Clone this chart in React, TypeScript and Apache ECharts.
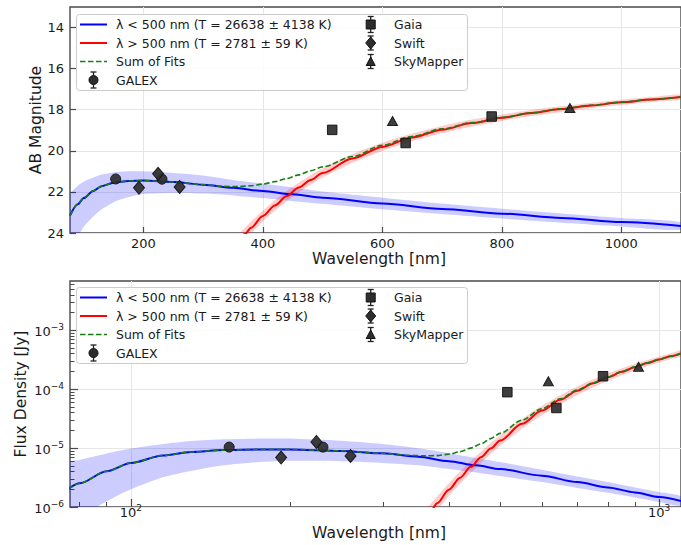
import React, { useEffect, useRef } from 'react';
import * as echarts from 'echarts';

const FONT = '"DejaVu Sans", sans-serif';
const LOG = Math.log10;

// ---------- upper panel: AB magnitudes ----------
const hotWlTop = [77, 90, 100, 116, 130, 150, 175, 200, 250, 300, 350, 400, 450, 500, 600, 700, 800, 900, 1000, 1100];
const hotMagTop = [23.15, 22.6, 22.3, 21.95, 21.72, 21.55, 21.47, 21.45, 21.52, 21.65, 21.8, 21.96, 22.12, 22.28, 22.56, 22.83, 23.06, 23.27, 23.47, 23.66];
const hotMagTopBright = [22.15, 21.7, 21.5, 21.3, 21.15, 21.05, 21.0, 21.0, 21.08, 21.2, 21.42, 21.6, 21.78, 21.98, 22.28, 22.57, 22.82, 23.05, 23.27, 23.47];
const hotMagTopFaint = [24.9, 24.2, 23.7, 23.2, 22.85, 22.5, 22.25, 22.1, 22.05, 22.08, 22.17, 22.3, 22.45, 22.58, 22.85, 23.08, 23.3, 23.5, 23.68, 23.85];

const coolWlTop = [355, 370, 380, 400, 420, 440, 460, 480, 500, 550, 600, 650, 700, 750, 800, 850, 900, 950, 1000, 1050, 1100];
const coolMagTop = [24.56, 24.05, 23.74, 23.17, 22.66, 22.2, 21.79, 21.42, 21.08, 20.37, 19.81, 19.35, 18.97, 18.65, 18.39, 18.16, 17.97, 17.79, 17.64, 17.5, 17.38];
const coolMagTopBright = [24.24, 23.75, 23.45, 22.9, 22.4, 21.95, 21.55, 21.19, 20.86, 20.16, 19.61, 19.16, 18.79, 18.48, 18.23, 18.01, 17.83, 17.66, 17.51, 17.38, 17.26];
const coolMagTopFaint = [24.88, 24.35, 24.03, 23.44, 22.92, 22.45, 22.03, 21.65, 21.3, 20.58, 20.01, 19.54, 19.15, 18.82, 18.55, 18.31, 18.11, 17.92, 17.77, 17.62, 17.5];

const sumWlTop = [77, 90, 100, 116, 130, 150, 175, 200, 250, 300, 330, 360, 380, 400, 420, 440, 460, 480, 500, 550, 600, 650, 700, 750, 800, 850, 900, 950, 1000, 1050, 1100];
const sumMagTop = [23.15, 22.6, 22.3, 21.95, 21.72, 21.55, 21.47, 21.45, 21.52, 21.65, 21.73, 21.74, 21.7, 21.62, 21.5, 21.35, 21.17, 20.97, 20.78, 20.28, 19.73, 19.3, 18.93, 18.63, 18.38, 18.15, 17.95, 17.78, 17.63, 17.5, 17.38];

// ---------- lower panel: flux density [Jy] ----------
const hotWlBot = [76, 80, 90, 100, 115, 130, 150, 175, 200, 250, 300, 350, 400, 450, 500, 600, 700, 800, 900, 1000, 1100];
const hotFluxBot = [2.0e-6, 2.53e-6, 4.05e-6, 5.6e-6, 7.5e-6, 8.6e-6, 9.25e-6, 9.5e-6, 9.5e-6, 8.95e-6, 8.15e-6, 7.15e-6, 6.0e-6, 5.1e-6, 4.4e-6, 3.4e-6, 2.65e-6, 2.15e-6, 1.77e-6, 1.48e-6, 1.26e-6];
const hotFluxBotHigh = [5.6e-6, 6.3e-6, 8.1e-6, 9.8e-6, 1.17e-5, 1.32e-5, 1.41e-5, 1.45e-5, 1.45e-5, 1.33e-5, 1.17e-5, 9.9e-6, 8.2e-6, 6.8e-6, 5.8e-6, 4.3e-6, 3.3e-6, 2.65e-6, 2.15e-6, 1.8e-6, 1.52e-6];
const hotFluxBotLow = [4.5e-7, 6.5e-7, 1.25e-6, 2.0e-6, 3.2e-6, 4.1e-6, 5.1e-6, 5.8e-6, 6.1e-6, 6.0e-6, 5.6e-6, 5.1e-6, 4.4e-6, 3.85e-6, 3.35e-6, 2.65e-6, 2.1e-6, 1.74e-6, 1.45e-6, 1.22e-6, 1.05e-6];

const coolWlBot = [355, 370, 380, 400, 420, 440, 460, 480, 500, 550, 600, 650, 700, 750, 800, 850, 900, 950, 1000, 1050, 1100];
const coolFluxBot = [5.45e-7, 8.7e-7, 1.16e-6, 1.97e-6, 3.15e-6, 4.8e-6, 7.0e-6, 9.85e-6, 1.34e-5, 2.58e-5, 4.33e-5, 6.6e-5, 9.4e-5, 1.26e-4, 1.6e-4, 1.97e-4, 2.37e-4, 2.78e-4, 3.2e-4, 3.62e-4, 4.05e-4];
const coolFluxBotHigh = [7.3e-7, 1.15e-6, 1.51e-6, 2.53e-6, 4.0e-6, 6.05e-6, 8.7e-6, 1.22e-5, 1.64e-5, 3.13e-5, 5.2e-5, 7.86e-5, 1.11e-4, 1.47e-4, 1.85e-4, 2.26e-4, 2.7e-4, 3.13e-4, 3.6e-4, 4.04e-4, 4.52e-4];
const coolFluxBotLow = [4.06e-7, 6.6e-7, 8.9e-7, 1.54e-6, 2.48e-6, 3.81e-6, 5.6e-6, 7.97e-6, 1.09e-5, 2.13e-5, 3.6e-5, 5.54e-5, 7.97e-5, 1.08e-4, 1.38e-4, 1.72e-4, 2.08e-4, 2.47e-4, 2.84e-4, 3.24e-4, 3.63e-4];

const sumWlBot = [76, 80, 90, 100, 115, 130, 150, 175, 200, 250, 300, 330, 360, 380, 400, 420, 440, 460, 480, 500, 550, 600, 650, 700, 750, 800, 850, 900, 950, 1000, 1050, 1100];
const sumFluxBot = [2.0e-6, 2.53e-6, 4.05e-6, 5.6e-6, 7.5e-6, 8.6e-6, 9.25e-6, 9.5e-6, 9.5e-6, 8.95e-6, 8.15e-6, 7.6e-6, 7.4e-6, 7.45e-6, 7.9e-6, 8.7e-6, 1.0e-5, 1.18e-5, 1.45e-5, 1.78e-5, 2.97e-5, 4.67e-5, 6.9e-5, 9.67e-5, 1.28e-4, 1.62e-4, 1.99e-4, 2.39e-4, 2.8e-4, 3.21e-4, 3.63e-4, 4.06e-4];

// ---------- photometry ----------
const galexWl = [153.5, 231];
const galexMag = [21.37, 21.38];
const galexFlux = [1.04e-5, 1.04e-5];
const swiftWl = [192.5, 224.5, 260.5];
const swiftMag = [21.8, 21.12, 21.76];
const swiftFlux = [6.9e-6, 1.27e-5, 7.35e-6];
const gaiaWl = [516, 639, 783];
const gaiaMag = [18.98, 19.62, 18.33];
const gaiaFlux = [8.9e-5, 4.8e-5, 1.66e-4];
const skyMapperWl = [617, 914];
const skyMapperMag = [18.55, 17.92];
const skyMapperFlux = [1.36e-4, 2.4e-4];

// ---------- axes ----------
const magTicks = [14, 16, 18, 20, 22, 24];
const wlTicks = [200, 400, 600, 800, 1000];
const wlDecades = [100, 1000];
const wlMinor = [80, 90, 200, 300, 400, 500, 600, 700, 800, 900];
const fluxDecades = [1e-6, 1e-5, 1e-4, 1e-3];
const fluxMantissas = [2, 3, 4, 5, 6, 7, 8, 9];
const legendLabels = [
  'λ < 500 nm (T = 26638 ± 4138 K)',
  'λ > 500 nm (T = 2781 ± 59 K)',
  'Sum of Fits',
  'GALEX',
];
const legendLabels2 = ['Gaia', 'Swift', 'SkyMapper'];

const WL_MIN_TOP = 77;
const WL_MAX = 1100;
const WL_MIN_BOT = 76.7;
const MAG_MIN = 13;
const MAG_MAX = 24;
const FLUX_MIN = 1e-6;
const FLUX_MAX = 6.87e-3;

const BLUE = '#0000ff';
const RED = '#ff0000';
const GREEN = '#168016';
const MARK = '#2e2e2e';
const GRID_LINE = '#e6e6e6';
const SPINE = '#4a4a4a';

const fluxMinor: number[] = [];
fluxDecades.forEach((d) =>
  fluxMantissas.forEach((m) => {
    if (m * d < FLUX_MAX) fluxMinor.push(m * d);
  })
);

type Pt = [number, number];
const pairs = (x: number[], y: number[], logScale: boolean): Pt[] =>
  x.map((w, i) => (logScale ? [LOG(w), LOG(y[i])] : [w, y[i]]));

function curve(x: number[], y: number[], panel: number, color: string, width: number, dashed = false, z = 3) {
  return {
    type: 'line',
    xAxisIndex: panel,
    yAxisIndex: panel,
    data: pairs(x, y, panel === 1),
    symbol: 'none',
    smooth: 0.3,
    smoothMonotone: 'x',
    silent: true,
    z,
    lineStyle: { color, width, type: dashed ? [5.5, 2.5] : 'solid' },
  };
}

// Confidence band drawn as one filled polygon: upper edge left-to-right, lower edge back.
function band(x: number[], lo: number[], hi: number[], panel: number, fill: string) {
  const isLog = panel === 1;
  const upper = pairs(x, hi, isLog);
  const lower = pairs(x, lo, isLog);
  return {
    type: 'custom',
    xAxisIndex: panel,
    yAxisIndex: panel,
    data: upper,
    silent: true,
    clip: true,
    z: 1,
    renderItem: (params: any, api: any) => {
      if (params.dataIndex !== 0) return null;
      const pts = [...upper.map((p) => api.coord(p)), ...lower.slice().reverse().map((p) => api.coord(p))];
      const cs = params.coordSys;
      return {
        type: 'group',
        clipPath: { type: 'rect', shape: { x: cs.x, y: cs.y, width: cs.width, height: cs.height } },
        children: [
          {
            type: 'polygon',
            shape: { points: pts, smooth: 0.25 },
            style: { fill, stroke: 'none' },
          },
        ],
      };
    },
  };
}

function points(x: number[], y: number[], panel: number, symbol: string, size: number | number[]) {
  return {
    type: 'scatter',
    xAxisIndex: panel,
    yAxisIndex: panel,
    data: pairs(x, y, panel === 1),
    symbol,
    symbolSize: size,
    silent: true,
    z: 10,
    itemStyle: { color: MARK, borderColor: '#111', borderWidth: 1, opacity: 0.92 },
  };
}

const powerLabel = (v: number) => {
  const e = Math.round(v);
  return `{b|10}{s|${e < 0 ? '\u2212' : ''}${Math.abs(e)}}`;
};
const powerRich = {
  b: { fontSize: 13, fontFamily: FONT, color: '#1a1a1a', lineHeight: 16, verticalAlign: 'bottom' },
  s: { fontSize: 9, fontFamily: FONT, color: '#1a1a1a', lineHeight: 9, verticalAlign: 'top' },
};

const tickLabel = { fontSize: 13, fontFamily: FONT, color: '#1a1a1a' };

function errorBar(cx: number, cy: number, half: number) {
  const s = { stroke: '#222', lineWidth: 1.3 };
  return [
    { type: 'line', shape: { x1: cx, y1: cy - half, x2: cx, y2: cy + half }, style: s, z: 101 },
    { type: 'line', shape: { x1: cx - 3, y1: cy - half, x2: cx + 3, y2: cy - half }, style: s, z: 101 },
    { type: 'line', shape: { x1: cx - 3, y1: cy + half, x2: cx + 3, y2: cy + half }, style: s, z: 101 },
  ];
}

function legend(top: number) {
  const rows = [10.5, 29, 47.5, 66].map((o) => top + o);
  const markStyle = { fill: MARK, stroke: '#111', lineWidth: 1 };
  const els: any[] = [
    {
      type: 'rect',
      shape: { x: 76.5, y: top + 0.5, width: 391, height: 76, r: 3 },
      style: { fill: 'rgba(255,255,255,0.85)', stroke: '#cccccc', lineWidth: 1 },
      z: 100,
    },
    { type: 'line', shape: { x1: 80, y1: rows[0], x2: 107, y2: rows[0] }, style: { stroke: BLUE, lineWidth: 2 }, z: 101 },
    { type: 'line', shape: { x1: 80, y1: rows[1], x2: 107, y2: rows[1] }, style: { stroke: RED, lineWidth: 2 }, z: 101 },
    {
      type: 'line',
      shape: { x1: 80, y1: rows[2], x2: 107, y2: rows[2] },
      style: { stroke: GREEN, lineWidth: 1.6, lineDash: [5.5, 2.5] },
      z: 101,
    },
    ...errorBar(93.5, rows[3], 8),
    { type: 'circle', shape: { cx: 93.5, cy: rows[3], r: 4.5 }, style: markStyle, z: 102 },
    ...errorBar(370.7, rows[0], 8),
    { type: 'rect', shape: { x: 366.2, y: rows[0] - 4.5, width: 9, height: 9 }, style: markStyle, z: 102 },
    ...errorBar(370.7, rows[1], 7),
    {
      type: 'polygon',
      shape: { points: [[370.7, rows[1] - 6], [375.7, rows[1]], [370.7, rows[1] + 6], [365.7, rows[1]]] },
      style: markStyle,
      z: 102,
    },
    ...errorBar(370.7, rows[2], 7),
    {
      type: 'polygon',
      shape: { points: [[370.7, rows[2] - 4.5], [375.2, rows[2] + 4], [366.2, rows[2] + 4]] },
      style: markStyle,
      z: 102,
    },
  ];
  legendLabels.forEach((t, i) =>
    els.push({
      type: 'text',
      x: 116,
      y: rows[i],
      style: { text: t, fontSize: 12.5, fontFamily: FONT, fill: '#1a1a1a', align: 'left', verticalAlign: 'middle' },
      z: 103,
    })
  );
  legendLabels2.forEach((t, i) =>
    els.push({
      type: 'text',
      x: 394,
      y: rows[i],
      style: { text: t, fontSize: 12.5, fontFamily: FONT, fill: '#1a1a1a', align: 'left', verticalAlign: 'middle' },
      z: 103,
    })
  );
  return els;
}

function axisTitle(text: string, x: number, y: number, vertical: boolean) {
  return {
    type: 'text',
    x,
    y,
    rotation: vertical ? Math.PI / 2 : 0,
    style: { text, fontSize: 15.5, fontFamily: FONT, fill: '#1a1a1a', align: 'center', verticalAlign: 'middle' },
    z: 103,
  };
}

function buildOption() {
  const gridTop = { left: 70, right: -10, top: 7, height: 226 };
  const gridBot = { left: 70, right: -10, top: 281, height: 226 };
  const border = { show: true, borderColor: SPINE, borderWidth: 1.4, backgroundColor: 'transparent' };

  return {
    animation: false,
    textStyle: { fontFamily: FONT },
    grid: [
      { ...gridTop, ...border },
      { ...gridBot, ...border },
      { ...gridBot, show: false },
    ],
    xAxis: [
      {
        type: 'value',
        gridIndex: 0,
        min: WL_MIN_TOP,
        max: WL_MAX,
        axisLine: { show: false },
        axisTick: { inside: true, length: 6, customValues: wlTicks, lineStyle: { color: SPINE, width: 1.2 } },
        axisLabel: { ...tickLabel, margin: 4, customValues: wlTicks, formatter: (v: number) => String(v) },
        splitLine: { show: true, lineStyle: { color: GRID_LINE, width: 1 } },
      },
      {
        type: 'value',
        gridIndex: 1,
        min: LOG(WL_MIN_BOT),
        max: LOG(WL_MAX),
        axisLine: { show: false },
        axisTick: { inside: true, length: 8, customValues: wlDecades.map(LOG), lineStyle: { color: SPINE, width: 1.2 } },
        axisLabel: { margin: -4, customValues: wlDecades.map(LOG), formatter: powerLabel, rich: powerRich },
        splitLine: { show: true, lineStyle: { color: GRID_LINE, width: 1 } },
      },
      {
        type: 'value',
        gridIndex: 2,
        min: LOG(WL_MIN_BOT),
        max: LOG(WL_MAX),
        axisLine: { show: false },
        axisTick: { inside: true, length: 5, customValues: wlMinor.map(LOG), lineStyle: { color: SPINE, width: 1 } },
        axisLabel: { show: false },
        splitLine: { show: false },
      },
    ],
    yAxis: [
      {
        type: 'value',
        gridIndex: 0,
        inverse: true,
        min: MAG_MIN,
        max: MAG_MAX,
        axisLine: { show: false },
        axisTick: { inside: true, length: 6, customValues: magTicks, lineStyle: { color: SPINE, width: 1.2 } },
        axisLabel: { ...tickLabel, margin: 6, customValues: magTicks },
        splitLine: { show: true, lineStyle: { color: GRID_LINE, width: 1 } },
      },
      {
        type: 'value',
        gridIndex: 1,
        min: LOG(FLUX_MIN),
        max: LOG(FLUX_MAX),
        axisLine: { show: false },
        axisTick: { inside: true, length: 8, customValues: fluxDecades.map(LOG), lineStyle: { color: SPINE, width: 1.2 } },
        axisLabel: { margin: 6, customValues: fluxDecades.map(LOG), formatter: powerLabel, rich: powerRich },
        splitLine: { show: true, lineStyle: { color: GRID_LINE, width: 1 } },
      },
      {
        type: 'value',
        gridIndex: 2,
        min: LOG(FLUX_MIN),
        max: LOG(FLUX_MAX),
        axisLine: { show: false },
        axisTick: { inside: true, length: 4.5, customValues: fluxMinor.map(LOG), lineStyle: { color: SPINE, width: 1 } },
        axisLabel: { show: false },
        splitLine: { show: false },
      },
    ],
    series: [
      // upper panel
      band(hotWlTop, hotMagTopFaint, hotMagTopBright, 0, 'rgba(0,0,255,0.2)'),
      band(coolWlTop, coolMagTopFaint, coolMagTopBright, 0, 'rgba(255,0,0,0.2)'),
      curve(hotWlTop, hotMagTop, 0, BLUE, 2),
      curve(coolWlTop, coolMagTop, 0, RED, 2),
      curve(sumWlTop, sumMagTop, 0, GREEN, 1.6, true, 4),
      points(galexWl, galexMag, 0, 'circle', 10),
      points(swiftWl, swiftMag, 0, 'diamond', [11, 13]),
      points(gaiaWl, gaiaMag, 0, 'rect', 9.5),
      points(skyMapperWl, skyMapperMag, 0, 'triangle', [10, 9]),
      // lower panel
      band(hotWlBot, hotFluxBotLow, hotFluxBotHigh, 1, 'rgba(0,0,255,0.2)'),
      band(coolWlBot, coolFluxBotLow, coolFluxBotHigh, 1, 'rgba(255,0,0,0.2)'),
      curve(hotWlBot, hotFluxBot, 1, BLUE, 2),
      curve(coolWlBot, coolFluxBot, 1, RED, 2),
      curve(sumWlBot, sumFluxBot, 1, GREEN, 1.6, true, 4),
      points(galexWl, galexFlux, 1, 'circle', 10),
      points(swiftWl, swiftFlux, 1, 'diamond', [11, 13]),
      points(gaiaWl, gaiaFlux, 1, 'rect', 9.5),
      points(skyMapperWl, skyMapperFlux, 1, 'triangle', [10, 9]),
    ],
    graphic: [
      ...legend(14),
      ...legend(287),
      axisTitle('AB Magnitude', 36, 120, true),
      axisTitle('Wavelength [nm]', 379, 259, false),
      axisTitle('Flux Density [Jy]', 21, 394, true),
      axisTitle('Wavelength [nm]', 379, 533, false),
    ],
  };
}

export default function App() {
  const ref = useRef<HTMLDivElement>(null);
  useEffect(() => {
    if (!ref.current) return;
    const chart = echarts.init(ref.current, null, { renderer: 'svg' });
    chart.setOption(buildOption() as any);
    return () => chart.dispose();
  }, []);
  return (
    <div
      ref={ref}
      style={{ position: 'absolute', left: 0, top: 0, width: 681, height: 545, background: '#ffffff' }}
    />
  );
}
